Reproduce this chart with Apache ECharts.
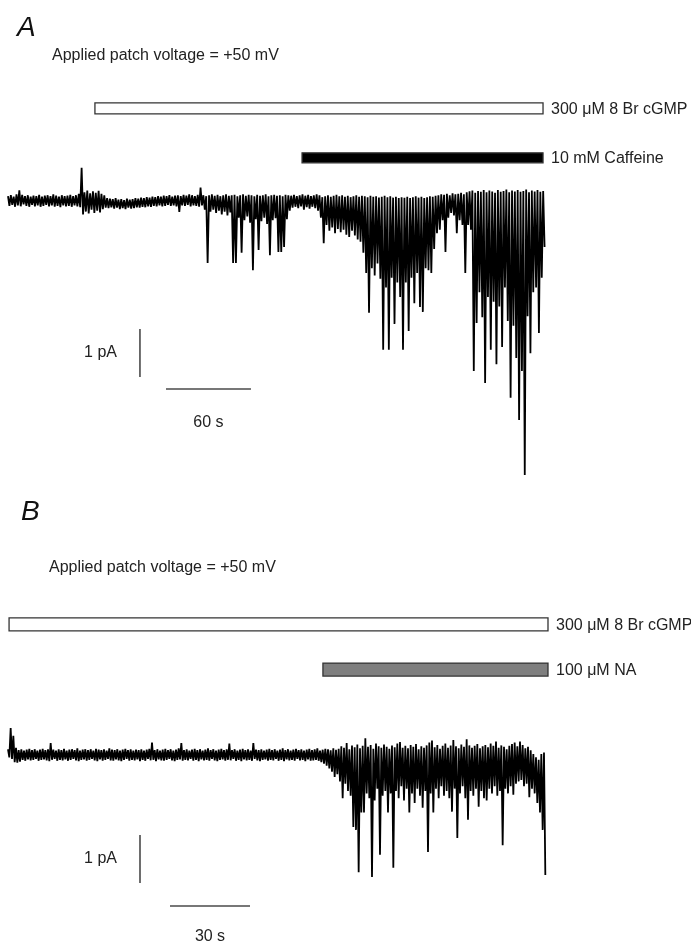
<!DOCTYPE html>
<html>
<head>
<meta charset="utf-8">
<script src="https://cdn.jsdelivr.net/npm/echarts/dist/echarts.min.js"></script>
<style>
  html, body { margin: 0; padding: 0; background: #fff; }
  #chart { width: 691px; height: 942px; }
</style>
</head>
<body>
<div id="chart"></div>
<script>
// ---- panel A: current trace, read as upper / lower envelope every 2 s (pA)
const stepA = 2;
const hiA = [
  0.10, 0.12, 0.09, 0.14, 0.22, 0.13, 0.10, 0.12, 0.09, 0.11,
  0.10, 0.13, 0.09, 0.11, 0.12, 0.10, 0.14, 0.11, 0.09, 0.12,
  0.10, 0.11, 0.13, 0.10, 0.12, 0.15, 0.69, 0.18, 0.22, 0.16,
  0.20, 0.17, 0.21, 0.15, 0.12, 0.06, 0.05, 0.04, 0.06, 0.03,
  0.04, 0.02, 0.05, 0.03, 0.04, 0.06, 0.05, 0.07, 0.06, 0.08,
  0.07, 0.09, 0.08, 0.10, 0.09, 0.11, 0.10, 0.12, 0.09, 0.11,
  0.12, 0.10, 0.13, 0.11, 0.14, 0.12, 0.10, 0.13, 0.28, 0.12,
  0.10, 0.12, 0.14, 0.11, 0.13, 0.10, 0.12, 0.14, 0.11, 0.12,
  0.13, 0.10, 0.12, 0.14, 0.11, 0.13, 0.12, 0.10, 0.13, 0.11,
  0.12, 0.14, 0.10, 0.12, 0.13, 0.11, 0.12, 0.10, 0.13, 0.12,
  0.11, 0.13, 0.10, 0.12, 0.14, 0.11, 0.13, 0.10, 0.12, 0.14,
  0.12, 0.08, 0.10, 0.12, 0.09, 0.11, 0.13, 0.10, 0.12, 0.09,
  0.11, 0.08, 0.10, 0.12, 0.09, 0.11, 0.10, 0.08, 0.11, 0.09,
  0.10, 0.07, 0.09, 0.11, 0.08, 0.10, 0.07, 0.09, 0.06, 0.08,
  0.07, 0.09, 0.06, 0.08, 0.10, 0.07, 0.09, 0.06, 0.08, 0.10,
  0.09, 0.11, 0.12, 0.14, 0.13, 0.15, 0.12, 0.16, 0.14, 0.15,
  0.17, 0.14, 0.18, 0.20, 0.22, 0.17, 0.21, 0.19, 0.23, 0.18,
  0.22, 0.20, 0.17, 0.23, 0.19, 0.21, 0.24, 0.18, 0.22, 0.20,
  0.23, 0.19, 0.21, 0.24, 0.18, 0.22, 0.20, 0.23, 0.19, 0.21
];
const loA = [
  -0.10, -0.08, -0.12, -0.09, -0.11, -0.07, -0.10, -0.12, -0.08, -0.11,
  -0.09, -0.12, -0.10, -0.08, -0.11, -0.09, -0.12, -0.10, -0.13, -0.09,
  -0.11, -0.10, -0.12, -0.09, -0.11, -0.13, -0.28, -0.22, -0.26, -0.18,
  -0.25, -0.20, -0.24, -0.17, -0.14, -0.15, -0.13, -0.16, -0.14, -0.17,
  -0.15, -0.17, -0.14, -0.16, -0.15, -0.13, -0.14, -0.12, -0.13, -0.11,
  -0.12, -0.10, -0.11, -0.09, -0.11, -0.10, -0.08, -0.10, -0.09, -0.11,
  -0.23, -0.09, -0.10, -0.08, -0.11, -0.09, -0.10, -0.12, -0.09, -0.18,
  -1.29, -0.22, -0.18, -0.25, -0.20, -0.28, -0.22, -0.30, -0.24, -1.29,
  -1.29, -0.35, -1.08, -0.40, -0.32, -0.45, -1.44, -0.38, -1.02, -0.42,
  -0.35, -0.48, -1.13, -0.40, -0.36, -1.06, -1.06, -0.96, -0.38, -0.20,
  -0.14, -0.12, -0.15, -0.11, -0.18, -0.13, -0.16, -0.12, -0.15, -0.20,
  -0.35, -0.88, -0.50, -0.62, -0.55, -0.67, -0.58, -0.65, -0.60, -0.70,
  -0.75, -0.62, -0.72, -0.80, -0.85, -1.08, -1.50, -2.33, -1.40, -1.55,
  -1.30, -1.62, -3.10, -1.80, -3.10, -1.60, -2.56, -1.70, -2.00, -3.10,
  -1.70, -2.71, -1.60, -2.13, -1.50, -2.21, -2.31, -1.40, -1.44, -1.50,
  -1.00, -0.67, -0.60, -0.40, -1.06, -0.35, -0.25, -0.30, -0.67, -0.40,
  -0.50, -1.50, -0.50, -0.60, -3.54, -2.54, -1.90, -2.42, -3.79, -2.00,
  -3.10, -2.10, -3.40, -2.20, -3.04, -1.80, -2.50, -4.10, -2.60, -3.27,
  -4.56, -3.54, -5.71, -2.40, -3.17, -1.90, -1.80, -2.75, -1.60, -0.96
];
const drugA = ['300 μM 8 Br cGMP', '10 mM Caffeine'];
const drugOnA = [61.4, 207.7];   // s
const drugOffA = [377.9, 377.9]; // s
const scaleA = [1, 60];          // pA, s

// ---- panel B: envelope every 1 s (pA)
const stepB = 1;
const hiB = [
  0.12, 0.56, 0.40, 0.15, 0.10, 0.12, 0.09, 0.11, 0.13, 0.10,
  0.12, 0.09, 0.11, 0.13, 0.10, 0.12, 0.25, 0.11, 0.09, 0.12,
  0.10, 0.13, 0.09, 0.11, 0.12, 0.10, 0.14, 0.09, 0.11, 0.12,
  0.10, 0.12, 0.09, 0.13, 0.11, 0.10, 0.12, 0.09, 0.14, 0.11,
  0.10, 0.12, 0.09, 0.11, 0.13, 0.10, 0.12, 0.09, 0.11, 0.10,
  0.12, 0.09, 0.11, 0.13, 0.26, 0.10, 0.12, 0.09, 0.11, 0.13,
  0.10, 0.12, 0.09, 0.11, 0.14, 0.25, 0.10, 0.12, 0.09, 0.11,
  0.13, 0.10, 0.12, 0.09, 0.11, 0.14, 0.10, 0.12, 0.09, 0.11,
  0.13, 0.10, 0.12, 0.24, 0.10, 0.12, 0.09, 0.11, 0.13, 0.10,
  0.12, 0.09, 0.25, 0.11, 0.10, 0.12, 0.09, 0.11, 0.13, 0.10,
  0.12, 0.09, 0.11, 0.14, 0.10, 0.12, 0.09, 0.11, 0.13, 0.10,
  0.12, 0.09, 0.11, 0.13, 0.10, 0.12, 0.14, 0.09, 0.11, 0.13,
  0.12, 0.10, 0.14, 0.11, 0.13, 0.18, 0.15, 0.25, 0.12, 0.20,
  0.16, 0.22, 0.14, 0.19, 0.35, 0.17, 0.21, 0.13, 0.24, 0.18,
  0.15, 0.22, 0.17, 0.13, 0.20, 0.16, 0.24, 0.27, 0.15, 0.19,
  0.14, 0.21, 0.17, 0.23, 0.12, 0.18, 0.15, 0.20, 0.26, 0.30,
  0.16, 0.21, 0.13, 0.19, 0.24, 0.15, 0.20, 0.31, 0.18, 0.14,
  0.22, 0.17, 0.33, 0.20, 0.15, 0.19, 0.23, 0.14, 0.18, 0.21,
  0.16, 0.24, 0.19, 0.28, 0.15, 0.20, 0.17, 0.12, 0.19, 0.23,
  0.26, 0.18, 0.28, 0.21, 0.14, 0.17, 0.10, 0.02, -0.05, -0.10,
  0.02, 0.05
];
const loB = [
  -0.05, -0.08, -0.15, -0.16, -0.14, -0.10, -0.12, -0.09, -0.11, -0.10,
  -0.08, -0.12, -0.10, -0.09, -0.11, -0.13, -0.10, -0.08, -0.12, -0.10,
  -0.11, -0.09, -0.12, -0.10, -0.08, -0.11, -0.13, -0.10, -0.09, -0.12,
  -0.10, -0.08, -0.11, -0.13, -0.09, -0.12, -0.10, -0.08, -0.11, -0.12,
  -0.09, -0.11, -0.13, -0.10, -0.08, -0.12, -0.10, -0.11, -0.09, -0.13,
  -0.10, -0.12, -0.08, -0.11, -0.10, -0.13, -0.09, -0.11, -0.12, -0.10,
  -0.08, -0.11, -0.13, -0.10, -0.09, -0.12, -0.10, -0.11, -0.08, -0.12,
  -0.10, -0.13, -0.09, -0.11, -0.10, -0.12, -0.08, -0.11, -0.13, -0.10,
  -0.09, -0.12, -0.10, -0.11, -0.08, -0.12, -0.10, -0.13, -0.09, -0.11,
  -0.10, -0.12, -0.08, -0.11, -0.13, -0.10, -0.09, -0.12, -0.10, -0.11,
  -0.08, -0.12, -0.10, -0.13, -0.09, -0.11, -0.10, -0.12, -0.08, -0.11,
  -0.10, -0.13, -0.09, -0.12, -0.11, -0.10, -0.12, -0.15, -0.18, -0.22,
  -0.28, -0.35, -0.46, -0.40, -0.55, -0.90, -0.60, -0.75, -0.85, -1.50,
  -1.56, -2.44, -1.20, -1.20, -0.80, -0.90, -2.54, -0.95, -0.70, -2.08,
  -0.85, -0.75, -1.20, -0.80, -2.35, -0.75, -0.90, -0.65, -0.95, -0.70,
  -1.20, -0.80, -1.00, -0.70, -0.85, -1.10, -0.75, -2.02, -0.80, -1.20,
  -0.70, -0.90, -0.65, -0.85, -0.75, -0.90, -1.18, -0.70, -1.73, -0.80,
  -0.65, -0.90, -1.35, -0.75, -0.85, -0.70, -1.08, -0.75, -0.90, -0.95,
  -0.70, -0.80, -0.65, -0.85, -0.75, -1.88, -0.70, -0.80, -0.65, -0.83,
  -0.60, -0.55, -0.52, -0.65, -0.60, -0.88, -0.70, -0.80, -1.00, -1.20,
  -1.56, -2.50
];
const drugB = ['300 μM 8 Br cGMP', '100 μM NA'];
const drugOnB = [0.4, 118.1];
const drugOffB = [202.5, 202.5];
const scaleB = [1, 30];

// ---- layout (not data)
const FONT = '"Liberation Sans", Arial, sans-serif';
const TXT = '#222';
const barLevelA = [1.93, 0.90];   // pA level of drug bars
const barLevelB = [2.72, 1.78];
const barHA = [11, 10];
const barHB = [13, 13];
const barFill = ['#fff', '#000'];
const barFillB = ['#fff', '#7f7f7f'];
// scale bar anchors: [t of vertical bar, top of vertical bar, t of horiz start, y of horiz]
const scalePosA = [93.2, -2.667, 111.6, -3.917];
const scalePosB = [49.5, -1.667, 60.75, -3.146];

function zigzag(hi, lo, step) {
  const pts = [];
  hi.forEach((h, i) => {
    pts.push([i * step, h]);
    pts.push([i * step + step / 2, lo[i]]);
  });
  return pts;
}

function drugRender(names, levels, heights, fills) {
  return function (params, api) {
    const i = api.value(2);
    const a = api.coord([api.value(0), levels[i]]);
    const b = api.coord([api.value(1), levels[i]]);
    const h = heights[i];
    return {
      type: 'group',
      children: [
        {
          type: 'rect',
          shape: { x: a[0], y: a[1] - h / 2, width: b[0] - a[0], height: h },
          style: { fill: fills[i], stroke: '#333', lineWidth: 1.3 }
        },
        {
          type: 'text',
          style: {
            text: names[i], x: b[0] + 8, y: a[1] + 1,
            font: '16px ' + FONT, fill: TXT,
            align: 'left', verticalAlign: 'middle',
            textAlign: 'left', textVerticalAlign: 'middle'
          }
        }
      ]
    };
  };
}

function scaleRender(pos, labelDy) {
  return function (params, api) {
    const pA = api.value(0), sec = api.value(1);
    const v0 = api.coord([pos[0], pos[1]]);
    const v1 = api.coord([pos[0], pos[1] - pA]);
    const h0 = api.coord([pos[2], pos[3]]);
    const h1 = api.coord([pos[2] + sec, pos[3]]);
    const ls = { stroke: '#4a4a4a', lineWidth: 1.6 };
    return {
      type: 'group',
      children: [
        { type: 'line', shape: { x1: v0[0], y1: v0[1], x2: v1[0], y2: v1[1] }, style: ls },
        { type: 'line', shape: { x1: h0[0], y1: h0[1], x2: h1[0], y2: h1[1] }, style: ls },
        {
          type: 'text',
          style: {
            text: pA + ' pA', x: v0[0] - 23, y: (v0[1] + v1[1]) / 2,
            font: '16px ' + FONT, fill: TXT,
            align: 'right', verticalAlign: 'middle',
            textAlign: 'right', textVerticalAlign: 'middle'
          }
        },
        {
          type: 'text',
          style: {
            text: sec + ' s', x: (h0[0] + h1[0]) / 2, y: h0[1] + labelDy,
            font: '16px ' + FONT, fill: TXT,
            align: 'center', verticalAlign: 'middle',
            textAlign: 'center', textVerticalAlign: 'middle'
          }
        }
      ]
    };
  };
}

const chart = echarts.init(document.getElementById('chart'), null, { renderer: 'canvas' });

chart.setOption({
  animation: false,
  backgroundColor: '#fff',
  grid: [
    { left: 8, top: 90.6, width: 538, height: 398.4 },
    { left: 8, top: 599, width: 541.33, height: 314.4 }
  ],
  xAxis: [
    { type: 'value', gridIndex: 0, min: 0, max: 380, show: false },
    { type: 'value', gridIndex: 1, min: 0, max: 203, show: false }
  ],
  yAxis: [
    { type: 'value', gridIndex: 0, min: -6.0, max: 2.3, show: false },
    { type: 'value', gridIndex: 1, min: -3.3, max: 3.25, show: false }
  ],
  graphic: [
    { type: 'text', left: 17, top: 14, style: { text: 'A', font: 'italic 28px ' + FONT, fill: '#111' } },
    { type: 'text', left: 52, top: 48, style: { text: 'Applied patch voltage = +50 mV', font: '16px ' + FONT, fill: TXT } },
    { type: 'text', left: 21, top: 498, style: { text: 'B', font: 'italic 28px ' + FONT, fill: '#111' } },
    { type: 'text', left: 49, top: 560, style: { text: 'Applied patch voltage = +50 mV', font: '16px ' + FONT, fill: TXT } }
  ],
  series: [
    {
      type: 'line', xAxisIndex: 0, yAxisIndex: 0,
      data: zigzag(hiA, loA, stepA),
      showSymbol: false, symbol: 'none',
      lineStyle: { color: '#000', width: 1.8 }
    },
    {
      type: 'line', xAxisIndex: 1, yAxisIndex: 1,
      data: zigzag(hiB, loB, stepB),
      showSymbol: false, symbol: 'none',
      lineStyle: { color: '#000', width: 1.8 }
    },
    {
      type: 'custom', xAxisIndex: 0, yAxisIndex: 0, clip: false,
      renderItem: drugRender(drugA, barLevelA, barHA, barFill),
      data: drugA.map((n, i) => [drugOnA[i], drugOffA[i], i])
    },
    {
      type: 'custom', xAxisIndex: 1, yAxisIndex: 1, clip: false,
      renderItem: drugRender(drugB, barLevelB, barHB, barFillB),
      data: drugB.map((n, i) => [drugOnB[i], drugOffB[i], i])
    },
    {
      type: 'custom', xAxisIndex: 0, yAxisIndex: 0, clip: false,
      renderItem: scaleRender(scalePosA, 34),
      data: [scaleA]
    },
    {
      type: 'custom', xAxisIndex: 1, yAxisIndex: 1, clip: false,
      renderItem: scaleRender(scalePosB, 31),
      data: [scaleB]
    }
  ]
});
</script>
</body>
</html>
